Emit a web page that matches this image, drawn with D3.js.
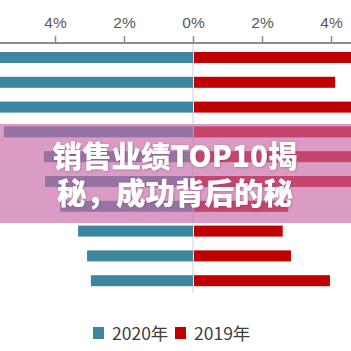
<!DOCTYPE html>
<html><head><meta charset="utf-8">
<script src="https://cdn.jsdelivr.net/npm/d3@7"></script>
<style>
html,body{margin:0;padding:0;background:#fff;}
svg{display:block;}
</style></head>
<body>
<script>
// ---- data ----
const categories = ["1","2","3","4","5","6","7","8","9","10"];
const values2020 = [6.3, 6.1, 5.9, 5.48, 4.32, 4.29, 3.85, 3.33, 3.07, 2.96];
const values2019 = [4.9, 4.12, 4.8, 4.7, 4.7, 4.65, 2.76, 2.6, 2.84, 3.97];
const tickValues = [-4, -2, 0, 2, 4];
const tickLabels = ["4%", "2%", "0%", "2%", "4%"];
const seriesNames = ["2020年", "2019年"];
const titleLines = ["销售业绩TOP10揭", "秘，成功背后的秘"];

const W = 351, H = 351;
const colors = ["#3d86a0", "#c00000"];

const svg = d3.select("body").append("svg").attr("width", W).attr("height", H);

const x = d3.scaleLinear().domain([-4, 4]).range([55, 331]);
const y = d3.scaleBand().domain(categories).range([45.1, 293.1]).paddingInner(0.556).paddingOuter(0.278);

// zero line
svg.append("line")
  .attr("x1", x(0)).attr("x2", x(0))
  .attr("y1", 43).attr("y2", 293)
  .attr("stroke", "#d0d0d0").attr("stroke-width", 1);

// bars 2020 (left, negative direction)
svg.append("g").selectAll("rect").data(values2020).join("rect")
  .attr("x", d => x(-d))
  .attr("width", d => x(0) - x(-d))
  .attr("y", (d, i) => y(categories[i]))
  .attr("height", y.bandwidth())
  .attr("fill", colors[0]);

// bars 2019 (right)
svg.append("g").selectAll("rect").data(values2019).join("rect")
  .attr("x", x(0) + 1)
  .attr("width", d => x(d) - x(0) - 1)
  .attr("y", (d, i) => y(categories[i]))
  .attr("height", y.bandwidth())
  .attr("fill", colors[1]);

// top axis
const axis = d3.axisTop(x).tickValues(tickValues)
  .tickFormat((d, i) => tickLabels[i]).tickSize(7).tickPadding(8);
const ag = svg.append("g").attr("transform", "translate(0,43)").call(axis);
ag.select(".domain").remove();
ag.append("line").attr("x1", 0).attr("x2", W).attr("y1", 0).attr("y2", 0)
  .attr("stroke", "#8c8c8c").attr("stroke-width", 2);
ag.selectAll(".tick line").attr("stroke", "#8c8c8c").attr("stroke-width", 1.5);
ag.selectAll(".tick text")
  .attr("fill", "#595959")
  .style("font-family", "'Liberation Sans', Arial, sans-serif")
  .style("font-size", "15.5px");

// legend
const legend = svg.append("g").attr("transform", "translate(93,327)");
const lx = [0, 82];
seriesNames.forEach((name, i) => {
  const g = legend.append("g").attr("transform", `translate(${lx[i]},0)`);
  g.append("rect").attr("width", 11).attr("height", 12).attr("fill", colors[i]);
  g.append("text").attr("x", 19).attr("y", 13)
    .attr("fill", "#404040")
    .style("font-family", "'Noto Sans CJK SC', 'Noto Sans', sans-serif")
    .style("font-size", "17.5px")
    .text(name);
});

// overlay banner
svg.append("rect").attr("x", 0).attr("y", 124).attr("width", W).attr("height", 99)
  .attr("fill", "rgb(199,105,165)").attr("fill-opacity", 0.66);

const defs = svg.append("defs");
const f = defs.append("filter").attr("id", "ts").attr("x", "-10%").attr("y", "-10%").attr("width", "120%").attr("height", "130%");
f.append("feDropShadow").attr("dx", 0.5).attr("dy", 0.5).attr("stdDeviation", 0.8)
  .attr("flood-color", "#7a3a60").attr("flood-opacity", 0.5);

const title = svg.append("text")
  .attr("text-anchor", "middle")
  .attr("fill", "#ffffff")
  .attr("filter", "url(#ts)")
  .style("font-family", "'Noto Sans CJK SC', sans-serif")
  .style("font-weight", "900")
  .style("font-size", "29.5px");
title.selectAll("tspan").data(titleLines).join("tspan")
  .attr("x", 175)
  .attr("y", (d, i) => 166.5 + i * 37)
  .text(d => d);
</script>
</body></html>
